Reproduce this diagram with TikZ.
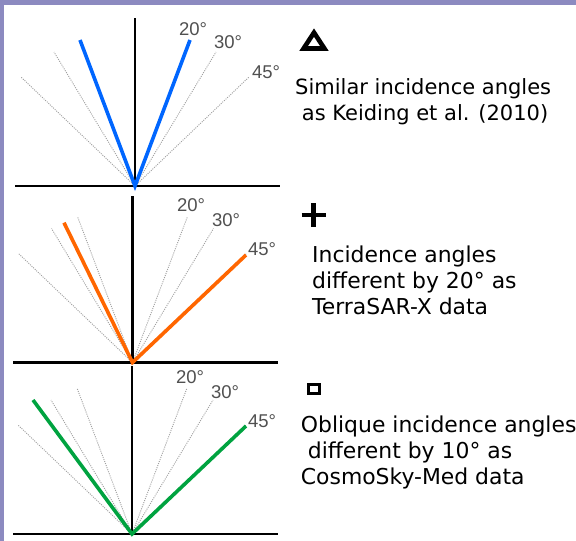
\documentclass[tikz,border=0pt]{standalone}
\usepackage{fontspec}
\setmainfont{DejaVu Sans}
\newfontfamily\labelfont{Liberation Sans}
\usetikzlibrary{calc}
\definecolor{framecol}{RGB}{140,138,192}
\definecolor{rayblue}{RGB}{0,102,255}
\definecolor{rayorange}{RGB}{255,102,0}
\definecolor{raygreen}{RGB}{0,163,64}
\definecolor{anglegray}{RGB}{80,80,80}
\definecolor{guidegray}{RGB}{160,160,160}
\begin{document}
\begin{tikzpicture}[x=1pt,y=-1pt,
  guide/.style={draw=guidegray, line width=0.9pt, dash pattern=on 1pt off 1.2pt},
  axis/.style={draw=black, line width=2.6pt},
  ray/.style={line width=3.6pt},
  anglabel/.style={font=\labelfont\fontsize{18.5}{20}\selectfont, text=anglegray, inner sep=0pt},
  desc/.style={align=left, inner sep=0pt, anchor=base west, text=black}]
\clip (0,0) rectangle (576,541);
\useasboundingbox (0,0) rectangle (576,541);
\fill[white] (0,0) rectangle (576,541);
% frame bands
\fill[framecol] (0,0) rectangle (576,5);
\fill[framecol] (0,0) rectangle (4,541);
% panels: guides and axes
\foreach \p/\ox/\oy/\tp/\hl/\hr in {1/135/186/18/15/280, 2/132.5/362.5/196/13/278, 3/132/534/366/13/278} {
  \coordinate (o\p) at (\ox,\oy);
  \coordinate (up\p) at (\ox,\tp);
  \coordinate (hl\p) at (\hl,\oy);
  \coordinate (hr\p) at (\hr,\oy);
  \foreach \n/\dx/\dy in {r20/55/146, r30/81/134, r45/114/109, l20/-55/146, l30/-81/134, l45/-114/109} {
    \coordinate (\n\p) at ($(o\p)+(\dx,-\dy)$);
    \draw[guide] (o\p) -- (\n\p);
  }
  \draw[axis] (up\p) -- (o\p);
  \draw[axis] (hl\p) -- (hr\p);
}
% coloured rays
\coordinate (b1l) at (80,40);
\coordinate (b1r) at (190,40);
\draw[ray, rayblue] (b1l) -- (o1) -- (b1r);
\coordinate (b2l) at (64,222.7);
\coordinate (b2r) at (246,255);
\draw[ray, rayorange] (b2l) -- (o2) -- (b2r);
\coordinate (b3l) at (33,400);
\coordinate (b3r) at (246,426);
\draw[ray, raygreen] (b3l) -- (o3) -- (b3r);
% angle labels
\node[anglabel] (a20p1) at (193,29) {20°};
\node[anglabel] (a30p1) at (228,42) {30°};
\node[anglabel] (a45p1) at (266,72) {45°};
\node[anglabel] (a20p2) at (191,205) {20°};
\node[anglabel] (a30p2) at (226,220) {30°};
\node[anglabel] (a45p2) at (262,249) {45°};
\node[anglabel] (a20p3) at (190,377) {20°};
\node[anglabel] (a30p3) at (225,392) {30°};
\node[anglabel] (a45p3) at (262,421) {45°};
% symbols
\draw[line width=4.6pt, line join=miter] (303.6,48.5) -- (324.4,48.5) -- (314,32.6) -- cycle;
\draw[line width=4.5pt] (301.7,215) -- (325.7,215) (313.7,203) -- (313.7,227);
\draw[line width=3pt] (308.2,384.2) rectangle (319.2,393.5);
% descriptions (anchor = baseline of the last line)
\node[desc, font=\fontsize{21}{26}\selectfont] (t1) at (295,120)
  {Similar incidence angles\\\mbox{}\ as Keiding et al. (2010)};
\node[desc, font=\fontsize{21.9}{25.7}\selectfont] (t2) at (312,314.1)
  {Incidence angles\\different by 20° as\\TerraSAR-X data};
\node[desc, font=\fontsize{21.9}{26}\selectfont] (t3) at (300.7,484.7)
  {Oblique incidence angles\\\mbox{}\ different by 10° as\\CosmoSky-Med data};
\end{tikzpicture}
\end{document}
